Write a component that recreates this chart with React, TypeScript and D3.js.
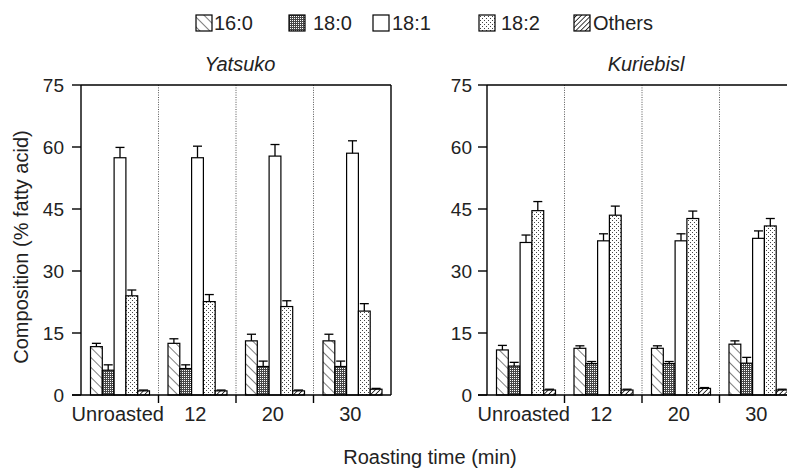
import React from 'react';
import * as d3 from 'd3';

// roasting time groups
const groups = ['Unroasted', '12', '20', '30'];
const acids = ['16:0', '18:0', '18:1', '18:2', 'Others'];
const yTicks = [0, 15, 30, 45, 60, 75];

// Yatsuko means and error (one per group)
const yatsuko160 = [11.7, 12.5, 13.1, 13.1];
const yatsuko180 = [6.0, 6.4, 6.9, 6.9];
const yatsuko181 = [57.4, 57.4, 57.8, 58.5];
const yatsuko182 = [24.0, 22.6, 21.4, 20.3];
const yatsukoOth = [1.0, 1.0, 1.0, 1.4];
const yatsuko160Err = [0.8, 1.1, 1.6, 1.6];
const yatsuko180Err = [1.3, 0.9, 1.3, 1.3];
const yatsuko181Err = [2.5, 2.8, 2.8, 3.0];
const yatsuko182Err = [1.4, 1.7, 1.4, 1.8];
const yatsukoOthErr = [0.2, 0.2, 0.2, 0.2];

// Kuriebisl
const kurie160 = [10.9, 11.3, 11.3, 12.3];
const kurie180 = [7.0, 7.6, 7.6, 7.7];
const kurie181 = [36.9, 37.3, 37.3, 37.9];
const kurie182 = [44.6, 43.5, 42.7, 40.9];
const kurieOth = [1.2, 1.2, 1.6, 1.2];
const kurie160Err = [1.1, 0.6, 0.6, 0.8];
const kurie180Err = [0.9, 0.5, 0.5, 1.4];
const kurie181Err = [1.8, 1.7, 1.7, 1.8];
const kurie182Err = [2.2, 2.2, 1.8, 1.8];
const kurieOthErr = [0.2, 0.2, 0.2, 0.2];

const W = 787;
const H = 471;
const FONT = 'Liberation Sans, Arial, Helvetica, sans-serif';
const fills = ['url(#p160)', 'url(#p180)', '#fff', 'url(#p182)', 'url(#poth)'];

const y = d3.scaleLinear().domain([0, 75]).range([395, 85]);

type PanelProps = {
  x0: number;
  title: string;
  means: number[][];
  errs: number[][];
  labelGap: number;
};

function Panel({ x0, title, means, errs, labelGap }: PanelProps) {
  const pw = 310;
  const x = d3.scaleBand().domain(groups).range([x0, x0 + pw]).paddingInner(0).paddingOuter(0);
  const inner = d3.scaleBand().domain(acids).range([9.5, 68.5]).padding(0);
  const bw = inner.bandwidth();
  const cap = 9;

  return (
    <g>
      {/* dotted dividers */}
      {groups.slice(1).map(g => (
        <line key={g} x1={x(g)} x2={x(g)} y1={y(75)} y2={y(0)}
          stroke="#555" strokeWidth={1} strokeDasharray="1,1.4" />
      ))}

      {/* bars */}
      {groups.map((g, gi) =>
        acids.map((a, ai) => {
          const v = means[ai][gi];
          const bx = (x(g) as number) + (inner(a) as number);
          return (
            <rect key={g + a} x={bx} y={y(v)} width={bw} height={y(0) - y(v)}
              fill={fills[ai]} stroke="#000" strokeWidth={1.2} />
          );
        })
      )}

      {/* error bars */}
      {groups.map((g, gi) =>
        acids.map((a, ai) => {
          const v = means[ai][gi];
          const e = errs[ai][gi];
          const cx = (x(g) as number) + (inner(a) as number) + bw / 2;
          return (
            <g key={'e' + g + a} stroke="#000" strokeWidth={1.3}>
              <line x1={cx} x2={cx} y1={y(v)} y2={y(v + e)} />
              <line x1={cx - cap / 2} x2={cx + cap / 2} y1={y(v + e)} y2={y(v + e)} />
            </g>
          );
        })
      )}

      {/* frame */}
      <g stroke="#000" strokeWidth={1.4} fill="none">
        <line x1={x0} x2={x0} y1={y(75)} y2={y(0)} />
        <line x1={x0 - 9} x2={x0 + pw} y1={y(0)} y2={y(0)} />
        <line x1={x0} x2={x0 + pw} y1={y(75)} y2={y(75)} />
        <line x1={x0 + pw} x2={x0 + pw} y1={y(75)} y2={y(0)} />
        {yTicks.map(t => (
          <line key={t} x1={x0 - 9} x2={x0} y1={y(t)} y2={y(t)} />
        ))}
        {groups.slice(1).map(g => (
          <line key={g} x1={x(g)} x2={x(g)} y1={y(0)} y2={y(0) + 8} />
        ))}
      </g>

      {/* y tick labels */}
      {yTicks.map(t => (
        <text key={t} x={x0 - labelGap} y={y(t)} dy="0.36em" textAnchor="end"
          fontSize={19} fill="#222">{t}</text>
      ))}

      {/* x labels */}
      {groups.map(g => (
        <text key={g} x={(x(g) as number) + x.bandwidth() / 2 - 2} y={421} textAnchor="middle"
          fontSize={20} fill="#222">{g}</text>
      ))}

      <text x={x0 + pw / 2 + 4} y={71} textAnchor="middle" fontSize={20}
        fontStyle="italic" fill="#222">{title}</text>
    </g>
  );
}

const legendBoxX = [196, 289, 373, 479, 574];
const legendTextX = [214, 313, 392, 501, 593];

export default function App() {
  return (
    <svg width={W} height={H} style={{ position: 'absolute', left: 0, top: 0, background: '#fff' }}
      fontFamily={FONT}>
      <defs>
        <pattern id="p160" patternUnits="userSpaceOnUse" width={7} height={7}
          patternTransform="rotate(-45)">
          <line x1={0} y1={-1} x2={0} y2={8} stroke="#000" strokeWidth={1} />
        </pattern>
        <pattern id="p180" patternUnits="userSpaceOnUse" width={2} height={2}>
          <rect width={2} height={2} fill="#484848" />
          <rect width={1} height={1} fill="#fff" />
        </pattern>
        <pattern id="p182" patternUnits="userSpaceOnUse" width={4} height={4}>
          <rect width={4} height={4} fill="#fff" />
          <rect x={0} y={0} width={1} height={1} fill="#444" />
          <rect x={2} y={2} width={1} height={1} fill="#444" />
        </pattern>
        <pattern id="poth" patternUnits="userSpaceOnUse" width={3.4} height={3.4}
          patternTransform="rotate(45)">
          <rect width={3.4} height={3.4} fill="#fff" />
          <line x1={0} y1={-1} x2={0} y2={5} stroke="#000" strokeWidth={1.5} />
        </pattern>
      </defs>

      {/* legend */}
      {acids.map((a, i) => (
        <g key={a}>
          <rect x={legendBoxX[i]} y={15} width={16} height={16} fill={fills[i]}
            stroke="#000" strokeWidth={1.2} />
          <text x={legendTextX[i]} y={30} fontSize={20} fill="#222">{a}</text>
        </g>
      ))}

      <Panel x0={81} title="Yatsuko" labelGap={17}
        means={[yatsuko160, yatsuko180, yatsuko181, yatsuko182, yatsukoOth]}
        errs={[yatsuko160Err, yatsuko180Err, yatsuko181Err, yatsuko182Err, yatsukoOthErr]} />
      <Panel x0={487} title="Kuriebisl" labelGap={15}
        means={[kurie160, kurie180, kurie181, kurie182, kurieOth]}
        errs={[kurie160Err, kurie180Err, kurie181Err, kurie182Err, kurieOthErr]} />

      <text x={430} y={464} textAnchor="middle" fontSize={20} fill="#222">Roasting time (min)</text>
      <text transform="translate(28,247) rotate(-90)" textAnchor="middle" fontSize={20}
        fill="#222">Composition (% fatty acid)</text>
    </svg>
  );
}
